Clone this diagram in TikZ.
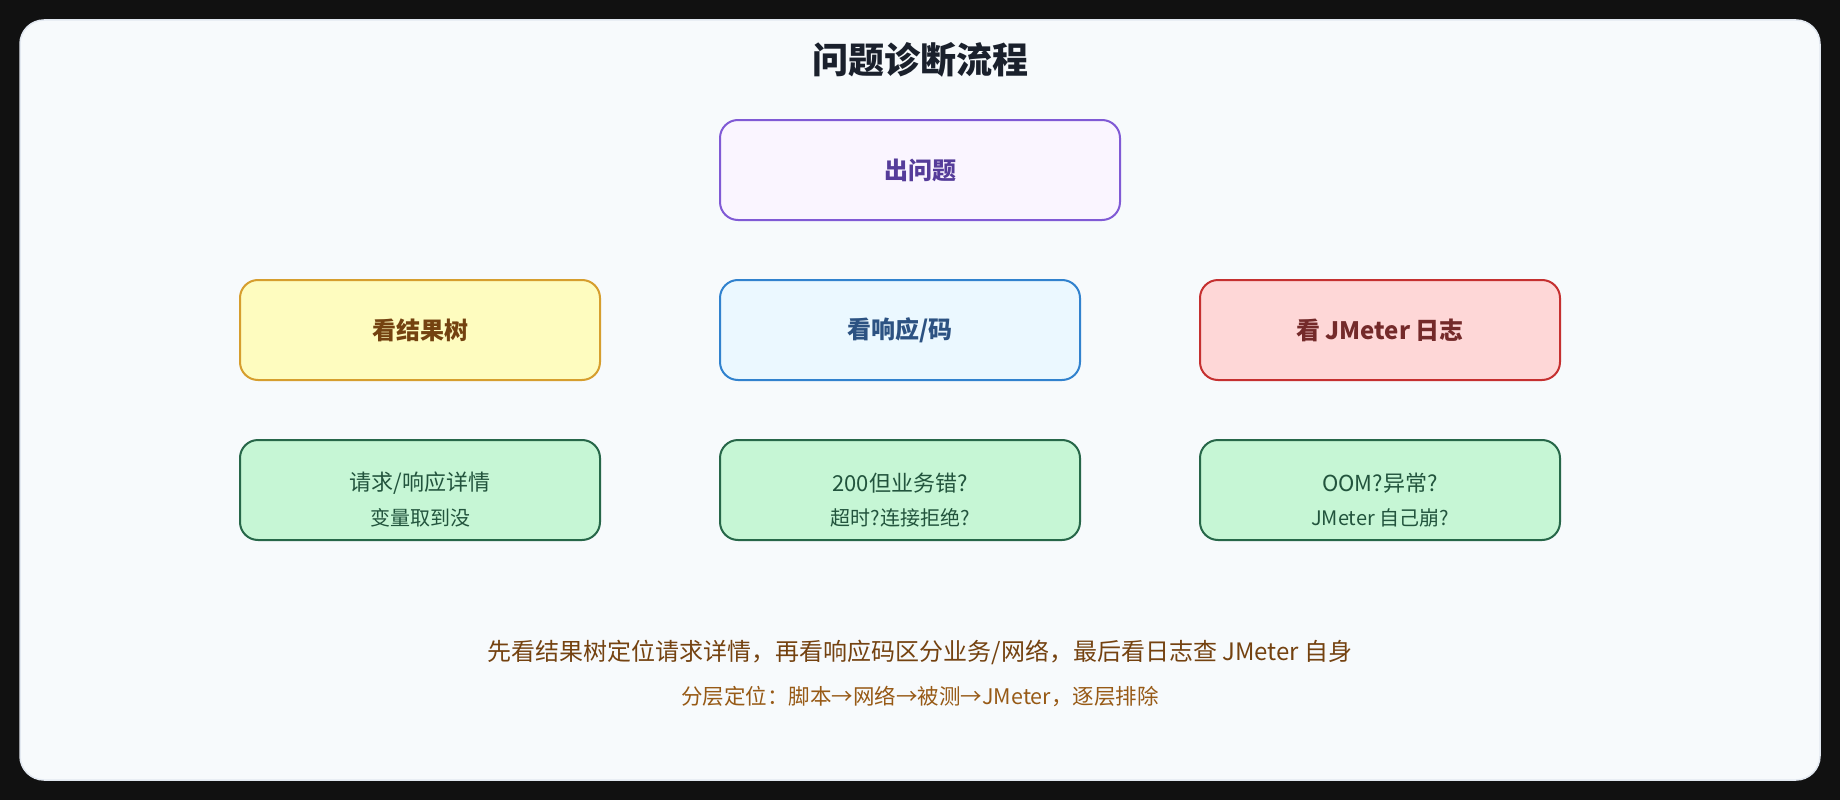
\documentclass[tikz,border=0pt]{standalone}
\usepackage{fontspec}
\setmainfont{Noto Sans CJK SC}
\definecolor{outerbg}{HTML}{111111}
\definecolor{panelbg}{HTML}{F7FAFC}
\definecolor{panelline}{HTML}{E2E8F0}
\definecolor{titlec}{HTML}{1A202C}
\definecolor{purfill}{HTML}{FAF5FF}
\definecolor{purline}{HTML}{805AD5}
\definecolor{purtext}{HTML}{553C9A}
\definecolor{yelfill}{HTML}{FEFCBF}
\definecolor{yelline}{HTML}{D69E2E}
\definecolor{yeltext}{HTML}{744210}
\definecolor{blufill}{HTML}{EBF8FF}
\definecolor{bluline}{HTML}{3182CE}
\definecolor{blutext}{HTML}{2C5282}
\definecolor{redfill}{HTML}{FED7D7}
\definecolor{redline}{HTML}{C53030}
\definecolor{redtext}{HTML}{742A2A}
\definecolor{grnfill}{HTML}{C6F6D5}
\definecolor{grnline}{HTML}{276749}
\definecolor{grntext}{HTML}{22543D}
\definecolor{notec}{HTML}{744210}
\definecolor{subnotec}{HTML}{975A16}
\tikzset{
  card/.style={rectangle, rounded corners=18pt, line width=2pt, minimum width=360pt, minimum height=100pt, inner sep=0pt},
  headtxt/.style={font=\fontsize{24}{28}\selectfont\bfseries, inner sep=0pt},
  mainline/.style={font=\fontsize{22}{26}\selectfont, text=grntext, inner sep=0pt},
  subline/.style={font=\fontsize{20}{24}\selectfont, text=grntext, inner sep=0pt},
}
\begin{document}
\begin{tikzpicture}[x=1pt,y=-1pt]
\fill[outerbg] (0,0) rectangle (1840,800);
\useasboundingbox (0,0) rectangle (1840,800);
\draw[fill=panelbg, draw=panelline, line width=1.5pt, rounded corners=24pt] (20,20) rectangle (1820,780);

\node[font=\fontsize{36}{40}\selectfont\bfseries, text=titlec] (title) at (920,60) {问题诊断流程};

\node[card, minimum width=400pt, fill=purfill, draw=purline] (start) at (920,170) {};
\node[headtxt, text=purtext] (startt) at (start.center) {出问题};

\node[card, fill=yelfill, draw=yelline] (tree) at (420,330) {};
\node[headtxt, text=yeltext] (treet) at (tree.center) {看结果树};
\node[card, fill=blufill, draw=bluline] (code) at (900,330) {};
\node[headtxt, text=blutext] (codet) at (code.center) {看响应/码};
\node[card, fill=redfill, draw=redline] (log) at (1380,330) {};
\node[headtxt, text=redtext] (logt) at (log.center) {看 JMeter 日志};

\node[card, fill=grnfill, draw=grnline] (d1) at (420,490) {};
\node[mainline] (d1a) at (420,483) {请求/响应详情};
\node[subline] (d1b) at (420,518) {变量取到没};
\node[card, fill=grnfill, draw=grnline] (d2) at (900,490) {};
\node[mainline] (d2a) at (900,483) {200但业务错?};
\node[subline] (d2b) at (900,518) {超时?连接拒绝?};
\node[card, fill=grnfill, draw=grnline] (d3) at (1380,490) {};
\node[mainline] (d3a) at (1380,483) {OOM?异常?};
\node[subline] (d3b) at (1380,518) {JMeter 自己崩?};

\node[font=\fontsize{24}{28}\selectfont, text=notec] (note1) at (920,652) {先看结果树定位请求详情，再看响应码区分业务/网络，最后看日志查 JMeter 自身};
\node[font=\fontsize{21.5}{25}\selectfont, text=subnotec] (note2) at (920,696) {分层定位：脚本→网络→被测→JMeter，逐层排除};
\end{tikzpicture}
\end{document}
